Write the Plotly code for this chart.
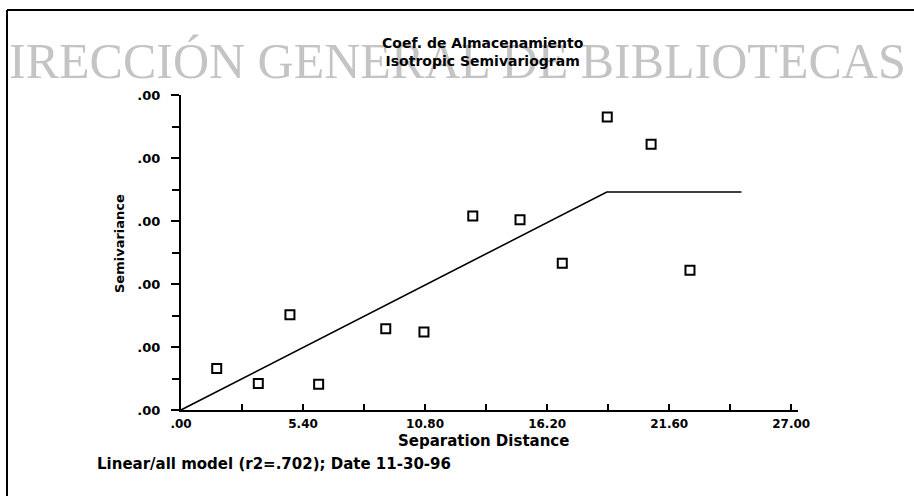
import plotly.graph_objects as go

# Data
dist = [1.58, 3.42, 4.82, 6.09, 9.06, 10.75, 12.91, 15.00, 16.87, 18.86, 20.80, 22.52]
semiv = [0.66, 0.42, 1.51, 0.41, 1.29, 1.24, 3.08, 3.02, 2.33, 4.65, 4.22, 2.22]
model_x = [0.0, 18.84, 24.8]
model_y = [0.0, 3.46, 3.46]
x_ticks = [0, 5.4, 10.8, 16.2, 21.6, 27.0]
x_ticktext = [".00", "5.40", "10.80", "16.20", "21.60", "27.00"]
y_ticks = [0, 1, 2, 3, 4, 5]
y_ticktext = [".00", ".00", ".00", ".00", ".00", ".00"]

# plot area in pixels
L, R, T, B = 181, 798, 95, 410
W, H = 914, 496
pw, ph = R - L, B - T

def px(xp):
    return (xp - L) / pw

def py(yp):
    return (B - yp) / ph

font_b = "DejaVu Sans"

fig = go.Figure()
fig.add_trace(go.Scatter(x=model_x, y=model_y, mode="lines",
                         line=dict(color="black", width=1.6), hoverinfo="skip"))
fig.add_trace(go.Scatter(x=dist, y=semiv, mode="markers",
                         marker=dict(symbol="square-open", size=9,
                                     line=dict(color="black", width=2), color="black")))

fig.update_layout(
    width=W, height=H, autosize=False,
    margin=dict(l=L, r=W - R, t=T, b=H - B, pad=0),
    paper_bgcolor="white", plot_bgcolor="white",
    showlegend=False,
    xaxis=dict(range=[0, 27.3], tickvals=x_ticks, ticktext=x_ticktext,
               showgrid=False, zeroline=False, showline=True, linecolor="black", linewidth=2,
               ticks="inside", ticklen=6, tickwidth=2, tickcolor="black",
               minor=dict(tickvals=[2.7, 8.1, 13.5, 18.9, 24.3], ticks="inside", ticklen=6,
                          tickwidth=2, tickcolor="black"),
               tickfont=dict(family=font_b, size=12, color="black", weight="bold"),
               ticklabelstandoff=2, fixedrange=True),
    yaxis=dict(range=[0, 5], tickvals=y_ticks, ticktext=y_ticktext,
               showgrid=False, zeroline=False, showline=True, linecolor="black", linewidth=2,
               ticks="outside", ticklen=8, tickwidth=2, tickcolor="black",
               minor=dict(tickvals=[0.5, 1.5, 2.5, 3.5, 4.5], ticks="outside", ticklen=7,
                          tickwidth=2, tickcolor="black"),
               tickfont=dict(family=font_b, size=13, color="black", weight="bold"),
               ticklabelstandoff=8, fixedrange=True),
)

ann = []
# watermark (visible part of the scanned stamp)
ann.append(dict(text="IRECCIÓN GENERAL DE BIBLIOTECAS", xref="paper", yref="paper",
                x=px(457), y=py(61), xanchor="center", yanchor="middle", showarrow=False,
                font=dict(family="Liberation Serif", size=50, color="#c4c4c4")))
# title
ann.append(dict(text="Coef. de Almacenamiento<br>Isotropic Semivariogram", xref="paper", yref="paper",
                x=px(483), y=py(52), xanchor="center", yanchor="middle", showarrow=False,
                align="center",
                font=dict(family=font_b, size=14, color="black", weight="bold")))
# axis titles
ann.append(dict(text="Separation Distance", xref="paper", yref="paper",
                x=px(483), y=py(441), xanchor="center", yanchor="middle", showarrow=False,
                font=dict(family=font_b, size=15, color="black", weight="bold")))
ann.append(dict(text="Semivariance", xref="paper", yref="paper",
                x=px(119), y=py(244), xanchor="center", yanchor="middle", showarrow=False,
                textangle=-90,
                font=dict(family=font_b, size=13, color="black", weight="bold")))
# footer
ann.append(dict(text="Linear/all model (r2=.702); Date 11-30-96", xref="paper", yref="paper",
                x=px(95), y=py(464), xanchor="left", yanchor="middle", showarrow=False,
                font=dict(family=font_b, size=15, color="black", weight="bold")))
fig.update_layout(annotations=ann)

# outer frame of the scanned page
fig.add_shape(type="line", xref="paper", yref="paper", x0=px(7), x1=px(914), y0=py(10), y1=py(10),
              line=dict(color="black", width=2))
fig.add_shape(type="line", xref="paper", yref="paper", x0=px(7), x1=px(7), y0=py(10), y1=py(496),
              line=dict(color="black", width=2))

fig.write_html("out.html", config={"displayModeBar": False},
               post_script="document.body.style.margin='0';document.body.style.overflow='hidden';")
